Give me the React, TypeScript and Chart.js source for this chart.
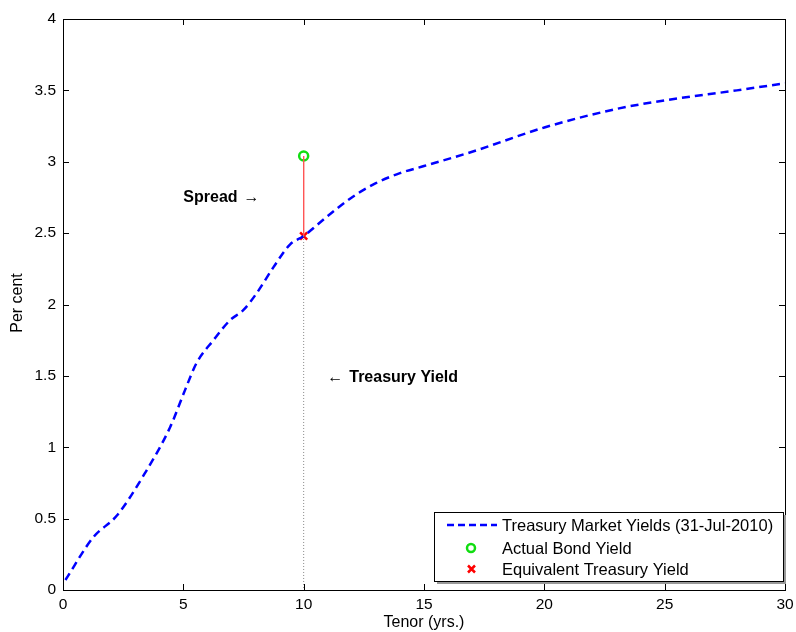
import React, { useEffect, useRef } from "react";
import { Chart, registerables } from "chart.js";

Chart.register(...registerables);

const tenors = [0.1, 1.26, 2.23, 3.41, 4.45, 5.07, 5.55, 6.25, 6.94, 7.49, 8.05, 8.74, 9.43, 10, 11, 12, 13, 14, 15, 17, 20, 23, 25, 28, 30];
const yields = [0.07, 0.37, 0.52, 0.82, 1.14, 1.4, 1.59, 1.75, 1.89, 1.96, 2.08, 2.26, 2.42, 2.48, 2.62, 2.75, 2.85, 2.92, 2.97, 3.07, 3.24, 3.37, 3.43, 3.5, 3.55];
const bondTenor = 10;
const bondYield = 3.04;
const treasuryYield = 2.48;
const legendLabels = ["Treasury Market Yields (31-Jul-2010)", "Actual Bond Yield", "Equivalent Treasury Yield"];
const xTicks = [0, 5, 10, 15, 20, 25, 30];
const yTicks = [0, 0.5, 1, 1.5, 2, 2.5, 3, 3.5, 4];

const FONT = "'Liberation Sans', Arial, Helvetica, sans-serif";

const overlay = {
  id: "overlay",
  afterDraw(chart: any) {
    const ctx = chart.ctx;
    const { left, right, top, bottom } = chart.chartArea;
    const xs = chart.scales.x;
    const ys = chart.scales.y;
    ctx.save();
    // box
    ctx.strokeStyle = "#000";
    ctx.lineWidth = 1;
    ctx.strokeRect(Math.round(left) + 0.5, Math.round(top) + 0.5, Math.round(right - left), Math.round(bottom - top));
    // ticks inward
    const tl = 6;
    ctx.beginPath();
    xTicks.forEach((v) => {
      const px = Math.round(xs.getPixelForValue(v)) + 0.5;
      ctx.moveTo(px, bottom);
      ctx.lineTo(px, bottom - tl);
      ctx.moveTo(px, top);
      ctx.lineTo(px, top + tl);
    });
    yTicks.forEach((v) => {
      const py = Math.round(ys.getPixelForValue(v)) + 0.5;
      ctx.moveTo(left, py);
      ctx.lineTo(left + tl, py);
      ctx.moveTo(right, py);
      ctx.lineTo(right - tl, py);
    });
    ctx.stroke();

    // axis titles
    ctx.fillStyle = "#000";
    ctx.font = `16px ${FONT}`;
    ctx.textAlign = "center";
    ctx.textBaseline = "middle";
    ctx.fillText("Tenor (yrs.)", 424, 623);
    ctx.save();
    ctx.translate(18, 303);
    ctx.rotate(-Math.PI / 2);
    ctx.fillText("Per cent", 0, 0);
    ctx.restore();

    // annotations
    ctx.textAlign = "left";
    ctx.font = `bold 16px ${FONT}`;
    const sx = xs.getPixelForValue(5.0);
    const sy = ys.getPixelForValue(2.75);
    ctx.fillText("Spread", sx, sy);
    const sw = ctx.measureText("Spread").width;
    ctx.font = `16px ${FONT}`;
    ctx.fillText("\u2192", sx + sw + 6, sy);
    const tx = xs.getPixelForValue(10.98);
    const ty = ys.getPixelForValue(1.485);
    ctx.fillText("\u2190", tx, ty);
    const aw = ctx.measureText("\u2190").width;
    ctx.font = `bold 16px ${FONT}`;
    ctx.fillText("Treasury Yield", tx + aw + 6, ty);

    // legend
    const lx = 434, ly = 512, lw = 349, lh = 69;
    ctx.fillStyle = "#fff";
    ctx.fillRect(lx, ly, lw, lh);
    ctx.strokeStyle = "#999";
    ctx.lineWidth = 2;
    ctx.beginPath();
    ctx.moveTo(lx + lw + 2, ly + 3);
    ctx.lineTo(lx + lw + 2, ly + lh + 2);
    ctx.lineTo(lx + 3, ly + lh + 2);
    ctx.stroke();
    ctx.strokeStyle = "#000";
    ctx.lineWidth = 1;
    ctx.strokeRect(lx + 0.5, ly + 0.5, lw, lh);
    const rows = [525, 548, 569];
    ctx.font = `16.5px ${FONT}`;
    ctx.fillStyle = "#000";
    ctx.textBaseline = "middle";
    legendLabels.forEach((t, i) => ctx.fillText(t, 502, rows[i] + 1));
    ctx.strokeStyle = "#0000ff";
    ctx.lineWidth = 2.5;
    ctx.setLineDash([7, 4]);
    ctx.beginPath();
    ctx.moveTo(447, rows[0]);
    ctx.lineTo(497, rows[0]);
    ctx.stroke();
    ctx.setLineDash([]);
    ctx.strokeStyle = "#11dd11";
    ctx.beginPath();
    ctx.arc(471, rows[1], 4, 0, Math.PI * 2);
    ctx.stroke();
    ctx.strokeStyle = "#ff0000";
    ctx.beginPath();
    ctx.moveTo(468, rows[2] - 3.5);
    ctx.lineTo(475, rows[2] + 3.5);
    ctx.moveTo(475, rows[2] - 3.5);
    ctx.lineTo(468, rows[2] + 3.5);
    ctx.stroke();
    ctx.restore();
  },
};

export default function App() {
  const ref = useRef<HTMLCanvasElement>(null);
  useEffect(() => {
    document.body.style.margin = "0";
    const curve = tenors.map((t, i) => ({ x: t, y: yields[i] }));
    const chart = new Chart(ref.current!, {
      type: "scatter",
      data: {
        datasets: [
          {
            data: [{ x: bondTenor, y: treasuryYield }, { x: bondTenor, y: 0 }],
            showLine: true,
            borderColor: "#888",
            borderWidth: 1,
            borderDash: [1, 2],
            pointRadius: 0,
          },
          {
            data: [{ x: bondTenor, y: bondYield }, { x: bondTenor, y: treasuryYield }],
            showLine: true,
            borderColor: "#ff5555",
            borderWidth: 1,
            pointRadius: 0,
          },
          {
            data: curve,
            showLine: true,
            borderColor: "#0000ff",
            borderWidth: 2.5,
            borderDash: [8, 5],
            pointRadius: 0,
            cubicInterpolationMode: "monotone",
          },
          {
            data: [{ x: bondTenor, y: bondYield }],
            pointStyle: "circle",
            pointRadius: 4.5,
            borderColor: "#11dd11",
            backgroundColor: "rgba(0,0,0,0)",
            borderWidth: 2.5,
          },
          {
            data: [{ x: bondTenor, y: treasuryYield }],
            pointStyle: "crossRot",
            pointRadius: 5,
            borderColor: "#ff0000",
            borderWidth: 2.5,
          },
        ],
      } as any,
      options: {
        animation: false,
        responsive: false,
        layout: { padding: { left: 0, right: 11, top: 19, bottom: 0 } },
        plugins: { legend: { display: false }, tooltip: { enabled: false } },
        scales: {
          x: {
            type: "linear",
            min: 0,
            max: 30,
            afterBuildTicks: (s: any) => { s.ticks = xTicks.map((v) => ({ value: v })); },
            afterFit: (s: any) => { s.height = 42; s.paddingLeft = 0; s.paddingRight = 0; },
            grid: { display: false, drawTicks: false },
            border: { display: false },
            ticks: { color: "#000", font: { family: FONT, size: 15.5 }, padding: 5, callback: (v: any) => String(v) },
          },
          y: {
            type: "linear",
            min: 0,
            max: 4,
            afterBuildTicks: (s: any) => { s.ticks = yTicks.map((v) => ({ value: v })); },
            afterFit: (s: any) => { s.width = 63; s.paddingTop = 0; s.paddingBottom = 0; },
            grid: { display: false, drawTicks: false },
            border: { display: false },
            ticks: { color: "#000", font: { family: FONT, size: 15.5 }, padding: 7, callback: (v: any) => String(v) },
          },
        },
      } as any,
      plugins: [overlay],
    });
    return () => chart.destroy();
  }, []);
  return (
    <div style={{ width: 796, height: 632, background: "#fff" }}>
      <canvas ref={ref} width={796} height={632} style={{ display: "block" }} />
    </div>
  );
}
